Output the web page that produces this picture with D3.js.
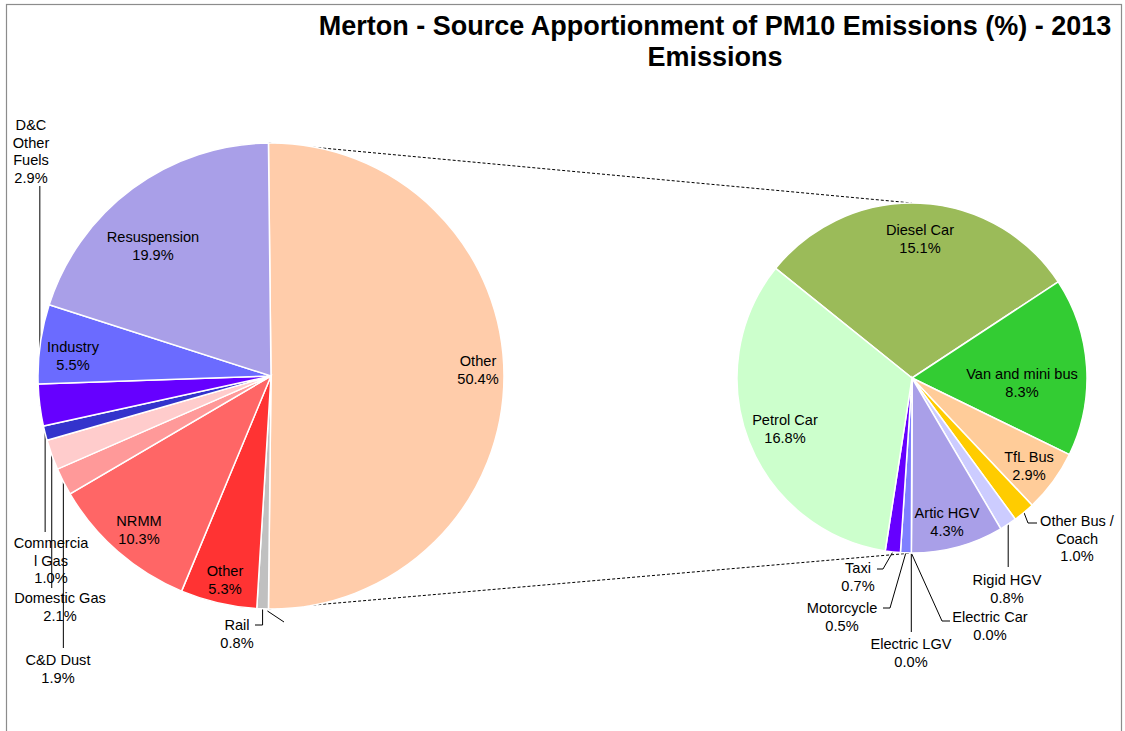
<!DOCTYPE html>
<html><head><meta charset="utf-8">
<script src="https://cdn.jsdelivr.net/npm/d3@7"></script>
<style>
body{margin:0;background:#fff}
text{font-family:"Liberation Sans",Arial,Helvetica,sans-serif;fill:#000}
</style>
</head><body>
<svg id="chart" width="1125" height="731"></svg>
<script>
// ---------- DATA ----------
const titleLines = ["Merton - Source Apportionment of PM10 Emissions (%) - 2013", "Emissions"];
const mainCategories = ["Other","Rail","Other","NRMM","C&D Dust","Domestic Gas","Commercial Gas","D&C Other Fuels","Industry","Resuspension"];
const mainValues = [50.4,0.8,5.3,10.3,1.9,2.1,1.0,2.9,5.5,19.9];
const mainColors = ["#FFCCAA","#C0C0C0","#FF3333","#FF6666","#FF9999","#FFCCCC","#3333CC","#6600FF","#6B6BFF","#A99FE8"];
const subCategories = ["Diesel Car","Van and mini bus","TfL Bus","Other Bus / Coach","Rigid HGV","Artic HGV","Electric Car","Electric LGV","Motorcycle","Taxi","Petrol Car"];
const subValues = [15.1,8.3,2.9,1.0,0.8,4.3,0.0,0.0,0.5,0.7,16.8];
const subColors = ["#9BBB59","#33CC33","#FFCC99","#FFCC00","#CCCCFF","#A99FE8","#9999CC","#8080FF","#7F7FFF","#6600FF","#CCFFCC"];

// ---------- LAYOUT ----------
const svg = d3.select("#chart");
const main = {cx:271, cy:376, r:233};
const sub = {cx:912, cy:378, r:175};
const toRad = d => d*Math.PI/180;
const otherDeg = mainValues[0]/d3.sum(mainValues)*360;
const mainStart = toRad(90 - otherDeg/2);
const subStart = toRad(-51.2);

const mainLabelLines = [
  ["Other","50.4%"],["Rail","0.8%"],["Other","5.3%"],["NRMM","10.3%"],["C&D Dust","1.9%"],
  ["Domestic Gas","2.1%"],["Commercia","l Gas","1.0%"],["D&C","Other","Fuels","2.9%"],["Industry","5.5%"],["Resuspension","19.9%"]];
const mainLabelPos = [[478,361],[237,625],[225,571],[139,521],[58,660],[60,598],[51,543],[31,125],[73,347],[153,237]];
const subLabelLines = [
  ["Diesel Car","15.1%"],["Van and mini bus","8.3%"],["TfL Bus","2.9%"],["Other Bus /","Coach","1.0%"],["Rigid HGV","0.8%"],
  ["Artic HGV","4.3%"],["Electric Car","0.0%"],["Electric LGV","0.0%"],["Motorcycle","0.5%"],["Taxi","0.7%"],["Petrol Car","16.8%"]];
const subLabelPos = [[920,230],[1022,374],[1029,457],[1077,521],[1007,580],[947,513],[990,617],[911,644],[842,608],[858,568],[785,420]];

// frame
svg.append("rect").attr("x",6.5).attr("y",4.5).attr("width",1115).attr("height",800)
  .attr("fill","none").attr("stroke","#8c8c8c").attr("stroke-width",1.2);

// title
svg.append("g").selectAll("text").data(titleLines).join("text")
  .attr("x",715).attr("y",(d,i)=>35+i*31).attr("text-anchor","middle")
  .style("font-size","27px").style("font-weight","bold").text(d=>d);

// pies
const mainArcs = d3.pie().sort(null).value(d=>d).startAngle(mainStart).endAngle(mainStart+2*Math.PI)(mainValues);
const subArcs = d3.pie().sort(null).value(d=>d).startAngle(subStart).endAngle(subStart+2*Math.PI)(subValues);

function edgePt(c, ang, rr){ rr = rr||c.r; return [c.cx + rr*Math.sin(ang), c.cy - rr*Math.cos(ang)]; }

// dashed connectors
const oa = mainArcs[0];
const p1 = edgePt(main, oa.startAngle), p2 = edgePt(main, oa.endAngle);
const q1 = [sub.cx, sub.cy - sub.r], q2 = [sub.cx, sub.cy + sub.r];
svg.append("line").attr("x1",p1[0]).attr("y1",p1[1]).attr("x2",q1[0]).attr("y2",q1[1])
  .attr("stroke","#000").attr("stroke-dasharray","3,2").attr("stroke-width",1);
svg.append("line").attr("x1",p2[0]).attr("y1",p2[1]).attr("x2",q2[0]).attr("y2",q2[1])
  .attr("stroke","#000").attr("stroke-dasharray","3,2").attr("stroke-width",1);

// leader lines
const lineGen = d3.line();
function mid(a){ return (a.startAngle+a.endAngle)/2; }
const leaders = [];
{
  const e = i => edgePt(main, mid(mainArcs[i]));
  let p = e(1); leaders.push([p,[p[0],625],[255,625]]);
  p = e(4); leaders.push([p,[p[0],648]]);
  p = e(5); leaders.push([p,[p[0],588]]);
  p = e(6); leaders.push([p,[p[0],532]]);
  p = e(7); leaders.push([p,[p[0],186]]);
  p = edgePt(main, oa.endAngle); leaders.push([[p[0]-1,p[1]+2],[284,622]]);
  const s = i => edgePt(sub, mid(subArcs[i]));
  p = s(3); leaders.push([p,[1028,523],[1037,523]]);
  p = s(4); leaders.push([p,[p[0],567]]);
  p = s(6); leaders.push([p,[942,621],[950,621]]);
  p = s(7); leaders.push([p,[p[0],632]]);
  p = s(8); leaders.push([p,[890,608],[883,608]]);
  p = s(9); leaders.push([p,[883,569],[877,569]]);
}
svg.append("g").selectAll("path").data(leaders).join("path")
  .attr("d",d=>lineGen(d)).attr("fill","none").attr("stroke","#000").attr("stroke-width",1);

const arcMain = d3.arc().innerRadius(0).outerRadius(main.r);
const arcSub = d3.arc().innerRadius(0).outerRadius(sub.r);
svg.append("g").attr("transform",`translate(${main.cx},${main.cy})`)
  .selectAll("path").data(mainArcs).join("path")
  .attr("d",arcMain).attr("fill",(d,i)=>mainColors[i]).attr("stroke","#fff").attr("stroke-width",1.5);
svg.append("g").attr("transform",`translate(${sub.cx},${sub.cy})`)
  .selectAll("path").data(subArcs).join("path")
  .attr("d",arcSub).attr("fill",(d,i)=>subColors[i]).attr("stroke","#fff").attr("stroke-width",1.5);

// labels
function drawLabels(lines, pos){
  const g = svg.append("g");
  lines.forEach((ls,i)=>{
    const t = g.append("text").attr("text-anchor","middle").style("font-size","14.6px");
    ls.forEach((l,j)=>{
      t.append("tspan").attr("x",pos[i][0]).attr("y",pos[i][1]+5+j*17.6).text(l);
    });
  });
}
drawLabels(mainLabelLines, mainLabelPos);
drawLabels(subLabelLines, subLabelPos);
</script>
</body></html>
